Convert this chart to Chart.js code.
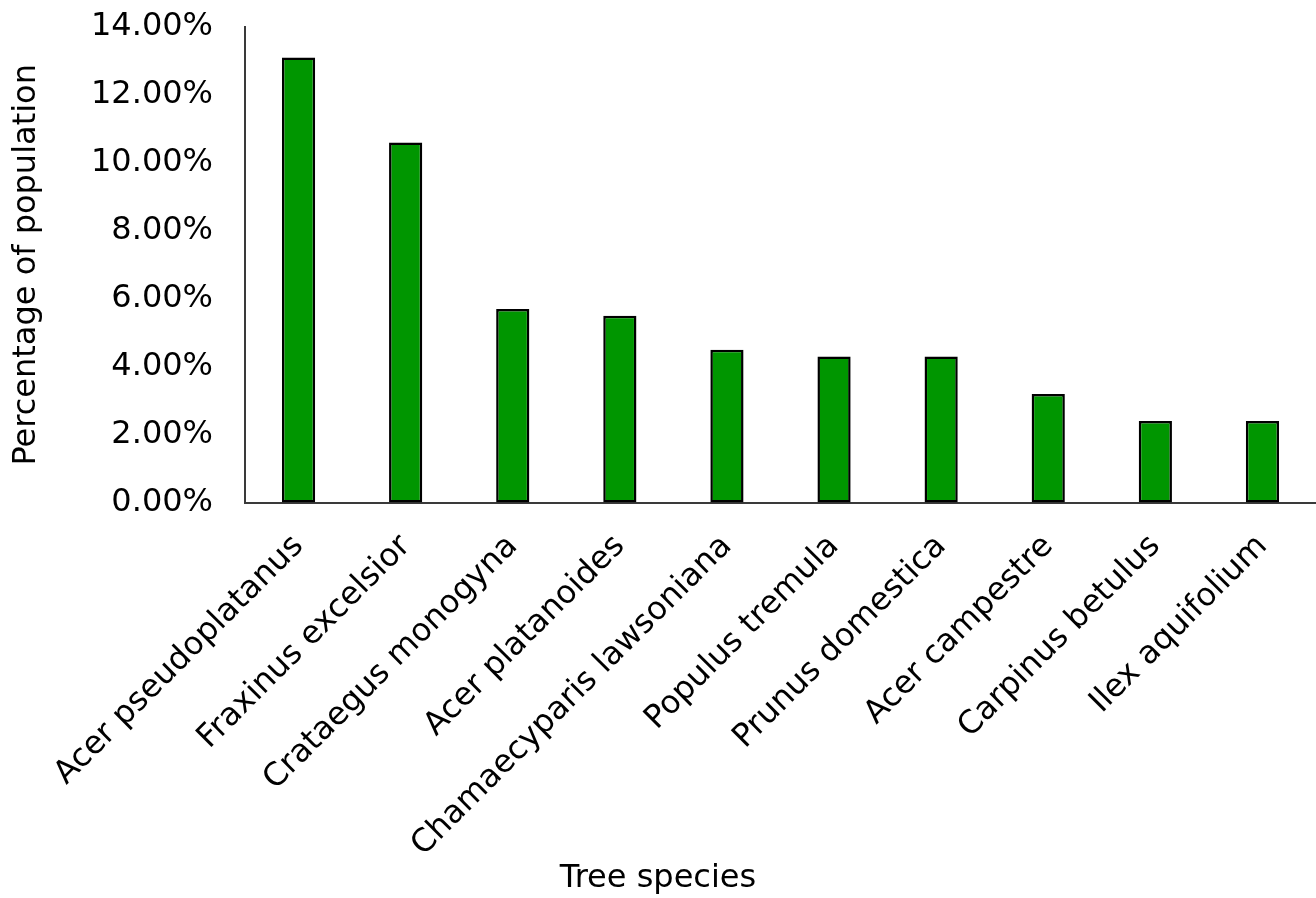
<!DOCTYPE html>
<html>
<head>
<meta charset="utf-8">
<script src="https://cdn.jsdelivr.net/npm/chart.js@4.4.1/dist/chart.umd.min.js"></script>
<style>
    html, body { margin: 0; padding: 0; background: #fff; }
    #wrap { width: 1316px; height: 898px; }
</style>
</head>
<body>
<div id="wrap"><canvas id="chart"></canvas></div>
<script>
// Dados do gráfico
const species = [
    'Acer pseudoplatanus', 'Fraxinus excelsior', 'Crataegus monogyna',
    'Acer platanoides', 'Chamaecyparis lawsoniana', 'Populus tremula',
    'Prunus domestica', 'Acer campestre', 'Carpinus betulus', 'Ilex aquifolium'
];
const percentages = [13.1, 10.6, 5.7, 5.5, 4.5, 4.3, 4.3, 3.2, 2.4, 2.4];
const yTicks = [0, 2, 4, 6, 8, 10, 12, 14];

const FONT = "'DejaVu Sans', Verdana, sans-serif";
const AXIS = '#3a3a3a';

new Chart(document.getElementById('chart'), {
    type: 'bar',
    data: {
        labels: species,
        datasets: [{
            data: percentages,
            backgroundColor: '#009600',
            borderColor: '#000000',
            borderWidth: 2.5,
            borderSkipped: false,
            categoryPercentage: 1,
            barPercentage: 0.31
        }]
    },
    options: {
        responsive: true,
        maintainAspectRatio: false,
        animation: false,
        layout: { padding: { top: 27, right: 0, left: 0, bottom: 0 } },
        plugins: {
            legend: { display: false },
            tooltip: { enabled: false },
            // título do eixo x centrado na largura total, como no original
            title: {
                display: true, position: 'bottom', text: 'Tree species',
                color: '#000', font: { family: FONT, size: 32, weight: 'normal' },
                padding: { top: 0, bottom: 0 }
            }
        },
        scales: {
            x: {
                grid: { display: false, drawTicks: false },
                border: { display: true, color: AXIS, width: 2 },
                ticks: {
                    minRotation: 45, maxRotation: 45, autoSkip: false,
                    color: '#000', padding: 25,
                    font: { family: FONT, size: 32 }
                },
                afterFit: (scale) => {
                    scale.height = 357;
                    scale.paddingLeft = 0; scale.paddingRight = 0;
                }
            },
            y: {
                min: 0, max: 14,
                grid: { display: false, drawTicks: false },
                border: { display: true, color: AXIS, width: 2 },
                afterBuildTicks: (scale) => { scale.ticks = yTicks.map(v => ({ value: v })); },
                ticks: {
                    color: '#000', padding: 32,
                    font: { family: FONT, size: 32 },
                    callback: (v) => v.toFixed(2) + '%'
                },
                title: {
                    display: true, text: 'Percentage of population', color: '#000',
                    font: { family: FONT, size: 32 }, padding: { top: 7, bottom: 0 }
                },
                afterFit: (scale) => {
                    scale.width = 245;
                    scale.paddingTop = 0; scale.paddingBottom = 0;
                }
            }
        }
    }
});
</script>
</body>
</html>
